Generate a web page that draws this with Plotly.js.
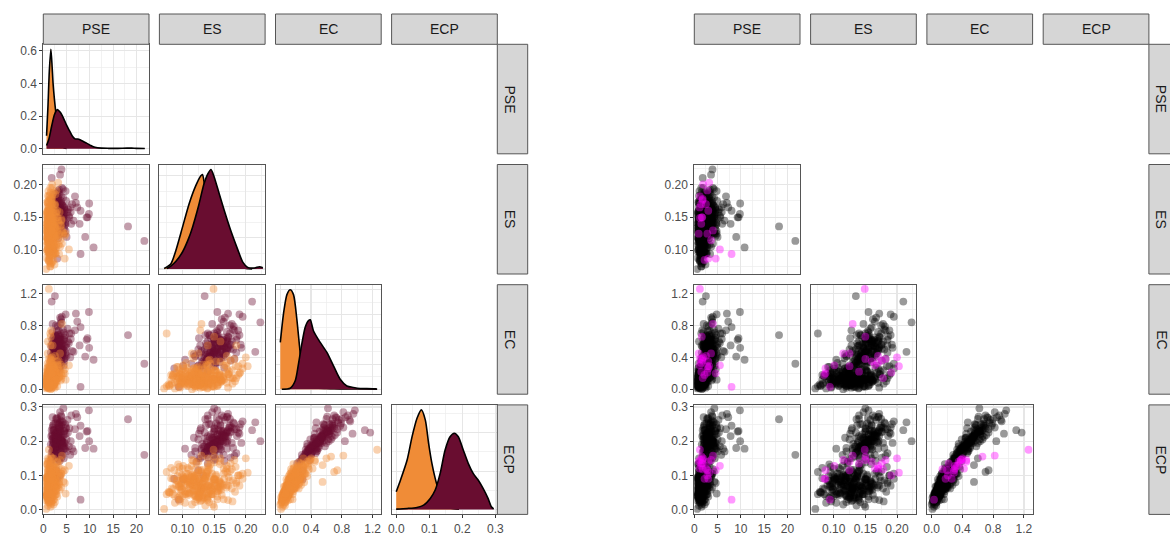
<!DOCTYPE html>
<html><head><meta charset="utf-8">
<script src="https://cdn.plot.ly/plotly-3.0.1.min.js"></script>
<style>html,body{margin:0;padding:0;background:#fff;}#chart{width:1170px;height:535px;}</style>
</head><body><div id="chart"></div>
<script>
// ---------------- DATA ----------------
const variables = ['PSE', 'ES', 'EC', 'ECP'];

// Group A (orange)
const orangePSE = [1.2,1.5,0.9,2.0,1.7,1.1,2.4,1.3,0.8,1.6, 2.8,1.0,1.9,1.4,2.2,0.7,3.1,1.8,1.25,2.6,
  1.55,0.95,2.1,1.35,3.4,1.15,2.3,1.65,0.85,2.9, 1.45,1.05,2.0,3.8,1.75,1.2,2.5,1.6,0.75,2.7,
  1.3,1.9,1.1,3.6,2.2,1.5,0.9,4.2,1.7,2.4, 1.0,1.4,3.0,1.8,1.2,2.6,0.8,1.9,1.6,4.6,
  1.3,2.1,0.95,1.55,1.6,4.0,1.2,1.5,3.2,2.8, 1.7,2.0,0.6,3.9,4.8,2.5,1.9,1.0,3.3,2.2,
  3.6,5.5,4.6,1.8,1.3,1.0,1.6,1.9,1.2,2.3, 0.9,1.45,1.7,2.0,1.1,1.35,2.6,1.55,0.8,1.8,
  2.1,1.25,1.5,2.4,1.05,1.65,1.4,2.9,0.7,1.95, 1.15,2.2,1.6,1.3,3.2,0.85,1.75,2.5,1.0,1.85,
  0.6,1.1,1.8,2.7,0.7,1.4,2.0,3.0,1.2,0.9, 1.6,2.4,1.0,3.5,1.3,2.2,0.8,1.7,2.9,1.5,
  0.65,2.1,1.2,3.3,1.9,0.75,2.5,1.4,4.0,1.0, 2.3,1.6,0.9,2.8,1.3,1.85,3.7,1.05,2.0,0.55,
  1.5,2.6,1.15,3.1,1.7,0.85,2.35,1.25,4.3,1.45, 0.7,2.2,1.6,1.0,2.75,1.35,0.95,3.4,1.9,1.2,
  2.45,0.8,1.55,2.05,1.1,3.0,1.75,0.6,2.15,1.3, 2.55,0.9,1.65,3.9,1.0,2.3,1.45,0.75,2.65,1.2,
  1.1,1.7,0.8,2.2,1.4,0.95,1.9,1.3,2.5,1.0, 1.6,0.7,2.0,1.25,1.8,0.9,2.3,1.5,1.15,2.7,
  0.85,1.35,2.1,1.6,1.0,1.95,1.3,2.4,0.75,1.7, 1.2,2.15,1.45,0.9,1.85,1.05,2.6,1.55,1.2,2.0,
  0.8,1.4,2.25,1.65,1.1,1.75,0.95,2.35,1.3,1.9, 1.0,1.5,2.05,1.25,0.7,1.6,2.8,1.15,1.8,1.4];
const orangeES = [0.160,0.100,0.120,0.138,0.130,0.142,0.112,0.090,0.148,0.155, 0.108,0.126,0.150,0.134,0.098,0.127,0.118,0.165,0.085,0.103,
  0.150,0.172,0.093,0.162,0.124,0.165,0.137,0.080,0.145,0.130, 0.170,0.172,0.102,0.138,0.176,0.116,0.095,0.152,0.135,0.158,
  0.088,0.180,0.128,0.105,0.188,0.075,0.132,0.125,0.118,0.132, 0.140,0.110,0.160,0.128,0.182,0.095,0.135,0.200,0.115,0.122,
  0.118,0.112,0.125,0.140,0.150,0.130,0.149,0.075,0.203,0.191, 0.128,0.185,0.071,0.145,0.125,0.170,0.195,0.160,0.108,0.085,
  0.115,0.101,0.087,0.178,0.096,0.150,0.130,0.145,0.108,0.124, 0.155,0.092,0.132,0.112,0.147,0.120,0.140,0.130,0.158,0.104,
  0.126,0.143,0.133,0.122,0.116,0.098,0.140,0.150,0.119,0.120, 0.128,0.110,0.135,0.100,0.145,0.118,0.140,0.125,0.115,0.138,
  0.155,0.085,0.170,0.095,0.140,0.178,0.082,0.132,0.165,0.100, 0.188,0.078,0.122,0.158,0.092,0.148,0.173,0.106,0.128,0.195,
  0.113,0.162,0.083,0.141,0.099,0.152,0.120,0.184,0.110,0.136, 0.169,0.079,0.144,0.104,0.160,0.126,0.137,0.175,0.091,0.130,
  0.117,0.185,0.097,0.150,0.139,0.166,0.107,0.119,0.127,0.153, 0.088,0.140,0.179,0.109,0.156,0.131,0.146,0.094,0.171,0.123,
  0.134,0.101,0.161,0.114,0.190,0.121,0.143,0.098,0.157,0.082, 0.168,0.129,0.111,0.147,0.183,0.096,0.136,0.159,0.118,0.174,
  0.132,0.118,0.141,0.105,0.150,0.124,0.137,0.099,0.145,0.116, 0.160,0.108,0.128,0.153,0.093,0.135,0.121,0.144,0.111,0.130,
  0.157,0.102,0.139,0.125,0.147,0.114,0.131,0.152,0.120,0.106, 0.164,0.097,0.138,0.127,0.149,0.112,0.134,0.094,0.143,0.119,
  0.129,0.155,0.109,0.133,0.101,0.146,0.117,0.142,0.123,0.158, 0.104,0.136,0.126,0.115,0.140,0.151,0.122,0.096,0.130,0.110];
const orangeEC = [0.12,0.10,0.15,0.18,0.08,0.06,0.14,0.20,0.04,0.13, 0.22,0.09,0.11,0.25,0.07,0.05,0.26,0.16,0.17,0.12,
  0.03,0.19,0.28,0.10,0.20,0.30,0.15,0.05,0.11,0.17, 0.33,0.02,0.08,0.31,0.36,0.06,0.24,0.13,0.03,0.21,
  0.01,0.14,0.09,0.23,0.29,0.04,0.16,0.28,0.12,0.10, 0.22,0.07,0.35,0.02,0.38,0.18,0.08,0.40,0.00,0.25,
  0.26,0.15,0.45,0.55,0.66,0.82,1.26,0.70,0.29,0.21, 0.74,0.55,0.01,0.20,0.12,0.42,0.32,0.60,0.14,0.18,
  0.45,0.30,0.20,0.14,0.10,0.14,0.07,0.12,0.05,0.19, 0.08,0.16,0.11,0.09,0.13,0.04,0.21,0.15,0.12,0.06,
  0.13,0.18,0.03,0.16,0.07,0.20,0.09,0.17,0.10,0.23, 0.05,0.11,0.14,0.12,0.15,0.06,0.08,0.25,0.17,0.10,
  0.05,0.16,0.08,0.20,0.02,0.24,0.12,0.31,0.13,0.22, 0.18,0.06,0.27,0.16,0.10,0.04,0.19,0.33,0.09,0.26,
  0.15,0.11,0.07,0.36,0.14,0.23,0.02,0.29,0.17,0.06, 0.21,0.04,0.32,0.13,0.09,0.18,0.11,0.15,0.28,0.10,
  0.39,0.14,0.19,0.24,0.01,0.12,0.27,0.05,0.20,0.35, 0.09,0.30,0.07,0.13,0.17,0.21,0.03,0.15,0.25,0.16,
  0.08,0.26,0.11,0.22,0.20,0.04,0.37,0.14,0.06,0.18, 0.30,0.08,0.24,0.13,0.10,0.03,0.28,0.17,0.10,0.22,
  0.10,0.14,0.07,0.19,0.12,0.05,0.16,0.09,0.21,0.13, 0.18,0.04,0.11,0.22,0.06,0.15,0.08,0.25,0.12,0.17,
  0.09,0.14,0.05,0.20,0.11,0.16,0.03,0.13,0.18,0.10, 0.15,0.07,0.23,0.06,0.12,0.19,0.09,0.13,0.08,0.22,
  0.14,0.04,0.17,0.11,0.16,0.07,0.21,0.14,0.10,0.19, 0.08,0.15,0.05,0.18,0.11,0.24,0.12,0.02,0.20,0.07];
const orangeECP = [0.075,0.040,0.092,0.068,0.062,0.022,0.098,0.072,0.045,0.060, 0.122,0.035,0.088,0.090,0.058,0.048,0.095,0.105,0.060,0.090,
  0.008,0.070,0.132,0.075,0.080,0.120,0.098,0.050,0.045,0.110, 0.128,0.028,0.068,0.105,0.135,0.055,0.125,0.088,0.035,0.085,
  0.020,0.085,0.068,0.095,0.100,0.045,0.092,0.112,0.080,0.042, 0.112,0.060,0.140,0.025,0.145,0.068,0.065,0.150,0.015,0.078,
  0.098,0.083,0.140,0.130,0.155,0.158,0.175,0.110,0.108,0.100, 0.115,0.081,0.002,0.065,0.047,0.120,0.105,0.150,0.088,0.090,
  0.145,0.128,0.115,0.118,0.040,0.090,0.058,0.052,0.050,0.108, 0.030,0.098,0.078,0.072,0.058,0.042,0.115,0.062,0.082,0.020,
  0.090,0.068,0.035,0.100,0.060,0.075,0.070,0.070,0.040,0.118, 0.050,0.082,0.058,0.085,0.065,0.055,0.032,0.090,0.102,0.045,
  0.055,0.045,0.072,0.110,0.040,0.062,0.092,0.080,0.030,0.120, 0.100,0.052,0.135,0.058,0.085,0.015,0.095,0.105,0.070,0.090,
  0.094,0.043,0.062,0.125,0.100,0.078,0.022,0.125,0.118,0.012, 0.064,0.050,0.132,0.045,0.080,0.060,0.098,0.112,0.085,0.027,
  0.142,0.076,0.065,0.138,0.035,0.090,0.072,0.068,0.082,0.098, 0.040,0.150,0.024,0.104,0.054,0.116,0.046,0.074,0.108,0.030,
  0.088,0.096,0.058,0.128,0.070,0.038,0.118,0.079,0.067,0.122, 0.112,0.056,0.074,0.105,0.052,0.030,0.092,0.133,0.044,0.084,
  0.066,0.058,0.048,0.090,0.078,0.036,0.094,0.060,0.080,0.072, 0.065,0.042,0.054,0.102,0.034,0.085,0.070,0.096,0.049,0.074,
  0.063,0.088,0.028,0.083,0.057,0.076,0.032,0.068,0.092,0.046, 0.071,0.052,0.110,0.041,0.087,0.079,0.058,0.067,0.055,0.099,
  0.062,0.038,0.081,0.050,0.093,0.044,0.086,0.073,0.069,0.078, 0.053,0.064,0.039,0.097,0.070,0.089,0.061,0.024,0.106,0.047];
// rows (0-based) shown in magenta in the right-hand matrix
const orangeMagentaRows = [25,30,34,52,54,57,62,64,65,66,68,69,75,79,80,81,82,83];

// Group B (maroon)
const maroonPSE = [3.0,2.5,3.5,2.0,4.0,2.8,3.3,1.8,4.5,2.2, 3.8,2.6,3.1,5.0,2.4,3.6,1.6,4.2,2.9,3.4,
  2.1,4.8,2.7,3.9,1.9,3.2,2.3,5.3,4.4,2.0, 4.3,7.0,9.8,7.3,9.3,10.8,18.2,21.7,8.0,1.8,
  3.9,3.6,2.5,4.8,9.85,9.5,9.0,8.0,4.0,6.0, 3.0,2.2,2.8,3.5,5.5,6.5,5.8,1.5,2.6,3.7,
  4.6,2.0,3.0,4.1,2.4,3.3,1.7,4.9,2.9,3.8, 2.2,3.4,5.2,2.7,3.6,3.0,2.6,3.5,2.3,3.9,
  2.8,3.2,4.4,2.0,3.7,2.5,4.0,3.1,2.7,3.4, 2.4,3.8,1.9,4.7,3.2,2.6,5.6,3.5,2.1,4.2,
  3.0,2.8,6.2,3.6,2.3,4.5,1.7,3.3,5.0,2.9, 3.9,2.2,4.0,2.5,3.1,7.8,3.7,2.7,4.4,1.8,
  3.4,5.9,2.0,3.6,4.8,2.6,3.2,4.1,2.4,6.8, 3.0,3.9,2.1,4.6,2.8,
  3.1,2.6,3.6,2.2,4.1,2.9,3.4,2.4,3.8,2.7, 4.5,3.0,2.0,3.3,4.2,2.8,3.5,2.5,3.9,3.2,
  2.3,4.4,2.9,3.7,2.6,4.0,3.1,2.1,3.6,2.7];
const maroonES = [0.150,0.145,0.160,0.138,0.155,0.170,0.142,0.132,0.165,0.150, 0.175,0.128,0.158,0.148,0.168,0.135,0.155,0.180,0.122,0.185,
  0.160,0.140,0.175,0.150,0.145,0.190,0.130,0.162,0.125,0.170, 0.150,0.172,0.155,0.165,0.150,0.104,0.136,0.114,0.094,0.210,
  0.223,0.215,0.135,0.190,0.171,0.150,0.120,0.160,0.195,0.140, 0.087,0.101,0.125,0.133,0.152,0.145,0.165,0.140,0.180,0.155,
  0.138,0.178,0.140,0.168,0.158,0.188,0.150,0.175,0.135,0.162, 0.145,0.152,0.158,0.165,0.130,0.148,0.155,0.142,0.160,0.150,
  0.138,0.165,0.152,0.146,0.170,0.135,0.158,0.172,0.150,0.144, 0.128,0.182,0.160,0.142,0.118,0.176,0.150,0.166,0.137,0.193,
  0.126,0.158,0.170,0.147,0.185,0.133,0.163,0.178,0.120,0.154, 0.141,0.172,0.160,0.149,0.181,0.140,0.125,0.168,0.155,0.135,
  0.192,0.158,0.152,0.167,0.129,0.143,0.176,0.139,0.160,0.182, 0.131,0.171,0.147,0.161,0.186,
  0.152,0.162,0.145,0.157,0.168,0.140,0.173,0.150,0.159,0.136, 0.164,0.148,0.166,0.156,0.143,0.170,0.151,0.141,0.163,0.155,
  0.147,0.158,0.176,0.139,0.153,0.149,0.165,0.144,0.161,0.154];
const maroonEC = [0.45,0.40,0.55,0.35,0.50,0.60,0.38,0.30,0.65,0.48, 0.70,0.28,0.42,0.52,0.58,0.33,0.46,0.75,0.25,0.62,
  0.52,0.44,0.80,0.36,0.56,0.68,0.40,0.60,0.30,0.72, 0.62,0.95,0.97,0.85,0.62,0.37,0.68,0.32,0.03,1.10,
  0.84,0.47,1.17,0.94,0.52,0.64,0.41,0.78,0.91,0.70, 0.26,0.29,0.29,0.24,0.58,0.47,0.40,0.22,0.50,0.66,
  0.54,0.82,0.60,0.45,0.34,0.74,0.38,0.56,0.50,0.88, 0.64,0.29,0.76,0.43,0.48,0.46,0.52,0.41,0.48,0.55,
  0.37,0.58,0.49,0.43,0.63,0.33,0.44,0.53,0.57,0.47, 0.55,0.38,0.62,0.68,0.44,0.36,0.70,0.27,0.58,0.52,
  0.64,0.39,0.48,0.82,0.46,0.35,0.54,0.60,0.42,0.73, 0.31,0.66,0.57,0.28,0.79,0.55,0.50,0.45,0.71,0.41,
  0.56,0.63,0.33,0.90,0.46,0.68,0.51,0.40,0.47,0.74, 0.35,0.61,0.53,0.39,0.66,
  0.48,0.55,0.42,0.60,0.51,0.39,0.65,0.46,0.57,0.44, 0.62,0.36,0.53,0.68,0.45,0.50,0.59,0.41,0.47,0.63,
  0.52,0.38,0.56,0.49,0.67,0.43,0.54,0.40,0.61,0.47];
const maroonECP = [0.190,0.180,0.210,0.170,0.200,0.225,0.175,0.155,0.230,0.195, 0.245,0.150,0.185,0.205,0.215,0.165,0.190,0.255,0.140,0.235,
  0.200,0.180,0.265,0.168,0.220,0.240,0.178,0.225,0.150,0.270, 0.296,0.280,0.290,0.270,0.228,0.178,0.264,0.160,0.029,0.232,
  0.200,0.255,0.225,0.222,0.200,0.230,0.180,0.245,0.258,0.275, 0.090,0.089,0.115,0.100,0.185,0.170,0.160,0.135,0.180,0.205,
  0.195,0.240,0.265,0.210,0.160,0.225,0.145,0.240,0.185,0.275, 0.250,0.148,0.262,0.198,0.172,0.192,0.205,0.182,0.198,0.210,
  0.172,0.218,0.196,0.186,0.228,0.166,0.188,0.215,0.202,0.193, 0.232,0.158,0.205,0.250,0.210,0.152,0.238,0.142,0.246,0.195,
  0.222,0.205,0.178,0.285,0.165,0.185,0.215,0.195,0.170,0.268, 0.152,0.232,0.248,0.160,0.252,0.215,0.205,0.222,0.218,0.168,
  0.250,0.200,0.175,0.262,0.238,0.212,0.228,0.160,0.182,0.235, 0.192,0.272,0.208,0.176,0.215,
  0.205,0.218,0.190,0.232,0.198,0.182,0.240,0.176,0.222,0.208, 0.228,0.172,0.214,0.246,0.186,0.195,0.236,0.184,0.202,0.220,
  0.210,0.178,0.226,0.200,0.252,0.190,0.212,0.188,0.230,0.196];
const maroonMagentaRows = [38,50,52,57,66];

// Diagonal density curves
const pseDensOrangeX = [0.7,1.0,1.3,1.63,1.9,2.1,2.4,2.7,3.2,3.9,4.5,5.0];
const pseDensOrangeY = [0.08,0.26,0.48,0.61,0.50,0.40,0.30,0.22,0.10,0.02,0.005,0.002];
const pseDensMaroonX = [0.7,1.2,1.8,2.4,3.0,3.6,4.3,5.0,5.7,6.3,6.8,7.4,7.9,8.6,9.3,10.2,11.1,12.5,14,16,18,19,20,21.8];
const pseDensMaroonY = [0.02,0.06,0.14,0.21,0.24,0.225,0.19,0.145,0.107,0.075,0.061,0.060,0.055,0.045,0.035,0.02,0.009,0.004,0.003,0.003,0.004,0.004,0.003,0.002];
const esDensOrangeX = [0.071,0.0815,0.0894,0.10,0.1105,0.121,0.129,0.1315,0.135,0.14,0.15,0.16,0.17,0.18,0.19,0.20,0.21];
const esDensOrangeY = [0.08,0.81,2.95,6.73,10.5,13.4,15.0,15.2,13.5,11.3,7.3,4.0,1.9,0.8,0.32,0.1,0.03];
const esDensMaroonX = [0.075,0.0815,0.09,0.10,0.11,0.116,0.125,0.134,0.14,0.145,0.15,0.158,0.166,0.1765,0.187,0.1955,0.203,0.2137,0.2216,0.227];
const esDensMaroonY = [0.08,0.48,1.29,2.74,5.0,6.77,10.0,13.7,15.3,16.0,14.8,12.1,9.4,6.1,3.2,1.06,0.26,0.16,0.37,0.19];
const ecDensOrangeX = [0.0,0.0415,0.086,0.129,0.1716,0.216,0.25,0.28,0.324,0.367,0.42,0.5,0.6,0.7,0.85,1.0,1.26];
const ecDensOrangeY = [1.88,3.03,3.80,4.0,3.80,2.79,1.73,0.89,0.35,0.09,0.06,0.04,0.03,0.02,0.01,0.008,0.004];
const ecDensMaroonX = [0.02,0.129,0.194,0.236,0.28,0.324,0.367,0.39,0.432,0.519,0.606,0.692,0.779,0.866,0.952,1.04,1.126,1.25];
const ecDensMaroonY = [0.0,0.04,0.34,1.01,1.82,2.49,2.76,2.79,2.34,1.88,1.48,0.94,0.40,0.13,0.07,0.03,0.03,0.02];
const ecpDensOrangeX = [0.0,0.013,0.033,0.048,0.063,0.076,0.088,0.098,0.108,0.118,0.128,0.14,0.15,0.16,0.175,0.19];
const ecpDensOrangeY = [2.30,3.84,6.45,9.50,11.9,13.0,11.7,8.64,6.02,4.06,2.53,1.31,0.65,0.26,0.08,0.03];
const ecpDensMaroonX = [0.0,0.033,0.063,0.083,0.103,0.118,0.133,0.148,0.163,0.176,0.188,0.203,0.218,0.233,0.248,0.263,0.278,0.288,0.295];
const ecpDensMaroonY = [0.04,0.13,0.26,0.56,1.44,2.53,4.71,7.76,9.50,9.95,9.50,7.76,6.02,4.71,3.84,2.75,1.44,0.35,0.07];

// Tick labels
const pseTicks = [0,5,10,15,20],        pseTickText = ['0','5','10','15','20'];
const esTicks = [0.10,0.15,0.20],       esTickText = ['0.10','0.15','0.20'];
const ecTicks = [0,0.4,0.8,1.2],        ecTickText = ['0.0','0.4','0.8','1.2'];
const ecpTicks = [0,0.1,0.2,0.3],       ecpTickText = ['0.0','0.1','0.2','0.3'];
const densTicks = [0,0.2,0.4,0.6],      densTickText = ['0.0','0.2','0.4','0.6'];

// ---------------- STYLE / LAYOUT ----------------
const W = 1170, H = 535;
const ORANGE = 'rgb(240,140,55)', MAROON = 'rgb(105,13,48)';
const FONT = 'Liberation Sans, Arial, Helvetica, sans-serif';
const leftCols = [43.3, 159.4, 275.5, 391.6];
const rightCols = [694.3, 810.6, 926.9, 1043.2];
const colW = 105.7;
const rowTops = [44.3, 164.5, 284.7, 404.9];
const rowH = 109.5;
const stripTop = 14, stripH = 30.3, sideStripW = 30.4;

const obs = {
  orange: {PSE: orangePSE, ES: orangeES, EC: orangeEC, ECP: orangeECP},
  maroon: {PSE: maroonPSE, ES: maroonES, EC: maroonEC, ECP: maroonECP}
};
const axisSpec = {
  PSE: {range: [0, 22.7], major: pseTicks, text: pseTickText, minor: [2.5,7.5,12.5,17.5,22.5]},
  ES:  {range: [0.0635, 0.2305], major: esTicks, text: esTickText, minor: [0.075,0.125,0.175,0.225]},
  EC:  {range: [-0.0625, 1.3125], major: ecTicks, text: ecTickText, minor: [0.2,0.6,1.0]},
  ECP: {range: [-0.014, 0.306], major: ecpTicks, text: ecpTickText, minor: [0.05,0.15,0.25]}
};
const dens = {
  PSE: {ox: pseDensOrangeX, oy: pseDensOrangeY, mx: pseDensMaroonX, my: pseDensMaroonY, major: densTicks, text: densTickText, minor: [0.1,0.3,0.5]},
  ES:  {ox: esDensOrangeX, oy: esDensOrangeY, mx: esDensMaroonX, my: esDensMaroonY, major: [0,5,10,15], text: null, minor: [2.5,7.5,12.5]},
  EC:  {ox: ecDensOrangeX, oy: ecDensOrangeY, mx: ecDensMaroonX, my: ecDensMaroonY, major: [0,1,2,3,4], text: null, minor: [0.5,1.5,2.5,3.5]},
  ECP: {ox: ecpDensOrangeX, oy: ecpDensOrangeY, mx: ecpDensMaroonX, my: ecpDensMaroonY, major: [0,5,10], text: null, minor: [2.5,7.5,12.5]}
};

function mkAxis(domain, range, major, text, minor, showLabels, anchor) {
  return {
    domain: domain, range: range, anchor: anchor, fixedrange: true,
    tickmode: 'array', tickvals: major, ticktext: text || major.map(String),
    showticklabels: showLabels, ticks: showLabels ? 'outside' : '', ticklen: 3, tickwidth: 1, tickcolor: '#333333',
    tickfont: {family: FONT, size: 12, color: '#4D4D4D'},
    showgrid: true, gridcolor: '#E6E6E6', gridwidth: 1.1,
    minor: {tickmode: 'array', tickvals: minor, showgrid: true, gridcolor: '#EDEDED', gridwidth: 0.7, ticks: ''},
    zeroline: false, showline: true, mirror: true, linecolor: '#555555', linewidth: 1
  };
}

const traces = [];
const layout = {
  width: W, height: H, margin: {l: 0, r: 0, t: 0, b: 0}, autosize: false,
  paper_bgcolor: '#FFFFFF', plot_bgcolor: '#FFFFFF', showlegend: false,
  shapes: [], annotations: []
};
let k = 0;
function addPanel(colLeft, r, c, showX, showY, isDiag) {
  k += 1;
  const xn = 'x' + (k === 1 ? '' : k), yn = 'y' + (k === 1 ? '' : k);
  const xk = 'xaxis' + (k === 1 ? '' : k), yk = 'yaxis' + (k === 1 ? '' : k);
  const xv = variables[c], yv = variables[r];
  const xd = [colLeft / W, (colLeft + colW) / W];
  const yd = [1 - (rowTops[r] + rowH) / H, 1 - rowTops[r] / H];
  const xs = axisSpec[xv];
  layout[xk] = mkAxis(xd, xs.range, xs.major, xs.text, xs.minor, showX, yn);
  if (isDiag) {
    const d = dens[xv];
    const M = Math.max(...d.oy, ...d.my);
    layout[yk] = mkAxis(yd, [-0.05 * M, 1.05 * M], d.major, d.text, d.minor, showY, xn);
  } else {
    const ys = axisSpec[yv];
    layout[yk] = mkAxis(yd, ys.range, ys.major, ys.text, ys.minor, showY, xn);
  }
  return {xn, yn, xv, yv};
}
function pick(arr, rows) { return rows.map(i => arr[i]); }
function notRows(n, rows) { const s = new Set(rows); const out = []; for (let i = 0; i < n; i++) if (!s.has(i)) out.push(i); return out; }

const markerBase = {size: 7.8, opacity: 0.4, line: {width: 0}};

// Left matrix: densities on the diagonal, groups coloured
for (let r = 0; r < 4; r++) {
  for (let c = 0; c <= r; c++) {
    const p = addPanel(leftCols[c], r, c, r === 3, c === 0, r === c);
    if (r === c) {
      const d = dens[p.xv];
      traces.push({type: 'scatter', mode: 'lines', x: d.ox, y: d.oy, xaxis: p.xn, yaxis: p.yn, fill: 'tozeroy',
        fillcolor: ORANGE, line: {color: '#000', width: 1.6, shape: 'spline', smoothing: 0.7}, hoverinfo: 'skip'});
      traces.push({type: 'scatter', mode: 'lines', x: d.mx, y: d.my, xaxis: p.xn, yaxis: p.yn, fill: 'tozeroy',
        fillcolor: MAROON, line: {color: '#000', width: 1.6, shape: 'spline', smoothing: 0.7}, hoverinfo: 'skip'});
    } else {
      traces.push({type: 'scatter', mode: 'markers', x: obs.maroon[p.xv], y: obs.maroon[p.yv], xaxis: p.xn, yaxis: p.yn,
        marker: Object.assign({color: MAROON}, markerBase), hoverinfo: 'skip'});
      traces.push({type: 'scatter', mode: 'markers', x: obs.orange[p.xv], y: obs.orange[p.yv], xaxis: p.xn, yaxis: p.yn,
        marker: Object.assign({color: ORANGE}, markerBase), hoverinfo: 'skip'});
    }
  }
}
// Right matrix: lower triangle only, black with highlighted rows in magenta
const oBlack = notRows(orangePSE.length, orangeMagentaRows), mBlack = notRows(maroonPSE.length, maroonMagentaRows);
for (let r = 1; r < 4; r++) {
  for (let c = 0; c < r; c++) {
    const p = addPanel(rightCols[c], r, c, r === 3, c === 0, false);
    const bx = pick(obs.orange[p.xv], oBlack).concat(pick(obs.maroon[p.xv], mBlack));
    const by = pick(obs.orange[p.yv], oBlack).concat(pick(obs.maroon[p.yv], mBlack));
    const hx = pick(obs.orange[p.xv], orangeMagentaRows).concat(pick(obs.maroon[p.xv], maroonMagentaRows));
    const hy = pick(obs.orange[p.yv], orangeMagentaRows).concat(pick(obs.maroon[p.yv], maroonMagentaRows));
    traces.push({type: 'scatter', mode: 'markers', x: bx, y: by, xaxis: p.xn, yaxis: p.yn,
      marker: Object.assign({color: '#000000'}, markerBase), hoverinfo: 'skip'});
    traces.push({type: 'scatter', mode: 'markers', x: hx, y: hy, xaxis: p.xn, yaxis: p.yn,
      marker: Object.assign({color: '#FF00FF'}, markerBase), hoverinfo: 'skip'});
  }
}

// Strips
function strip(x0, x1, y0, y1, text, angle, tx) {
  layout.shapes.push({type: 'rect', xref: 'paper', yref: 'paper', x0: x0 / W, x1: x1 / W, y0: 1 - y1 / H, y1: 1 - y0 / H,
    fillcolor: '#D6D6D6', line: {color: '#555555', width: 1}, layer: 'above'});
  layout.annotations.push({xref: 'paper', yref: 'paper', x: tx / W, y: 1 - (y0 + y1) / 2 / H,
    text: text, showarrow: false, xanchor: 'center', yanchor: 'middle', textangle: angle, borderpad: 0,
    font: {family: FONT, size: 14, color: '#1A1A1A'}});
}
[leftCols, rightCols].forEach(cols => {
  for (let c = 0; c < 4; c++) strip(cols[c], cols[c] + colW, stripTop, stripTop + stripH, variables[c], 0, cols[c] + colW / 2);
  const sx = cols[3] + colW;
  for (let r = 0; r < 4; r++) strip(sx, sx + sideStripW, rowTops[r], rowTops[r] + rowH, variables[r], 90, sx + 12.3);
});

Plotly.newPlot('chart', traces, layout, {displayModeBar: false, staticPlot: true});
</script></body></html>
